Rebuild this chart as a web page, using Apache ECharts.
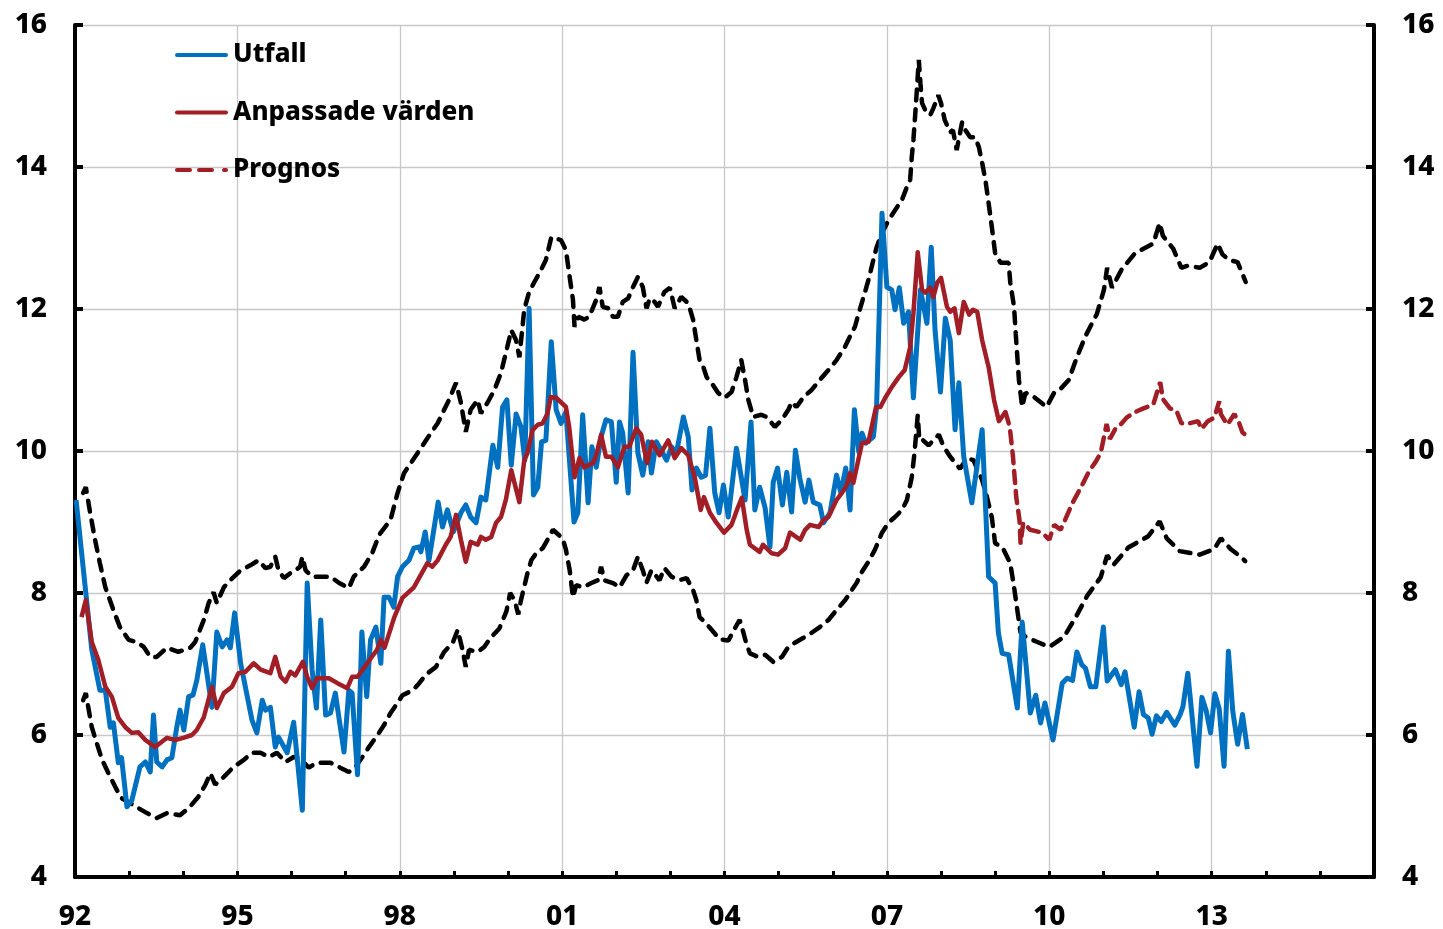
<!DOCTYPE html>
<html>
<head>
<meta charset="utf-8">
<script src="https://cdn.jsdelivr.net/npm/echarts@6/dist/echarts.min.js"></script>
<style>
html,body{margin:0;padding:0;background:#fff;}
#chart{width:1443px;height:929px;}
</style>
</head>
<body>
<div id="chart"></div>
<script>
// Year ticks shown on the x axis
var xTickYears = [1992, 1995, 1998, 2001, 2004, 2007, 2010, 2013, 2016];
// Y axis ticks
var yTicks = [4, 6, 8, 10, 12, 14, 16];

// Utfall (outcome) [year, value]
var utfall = [
[1992.02,9.31],[1992.31,7.2],[1992.46,6.63],[1992.56,6.63],[1992.65,6.11],[1992.71,6.17],[1992.8,5.61],[1992.86,5.68],[1992.96,4.99],[1993.05,5.08],
[1993.2,5.55],[1993.3,5.62],[1993.39,5.48],[1993.45,6.28],[1993.51,5.62],[1993.61,5.55],[1993.7,5.65],[1993.79,5.68],[1993.88,6.11],[1993.94,6.35],
[1994.01,6.07],[1994.1,6.54],[1994.18,6.56],[1994.25,6.77],[1994.36,7.27],[1994.53,6.39],[1994.62,7.45],[1994.72,7.24],[1994.81,7.34],[1994.87,7.23],
[1994.95,7.72],[1995.06,7.01],[1995.27,6.21],[1995.36,6.03],[1995.46,6.49],[1995.52,6.35],[1995.61,6.39],[1995.7,5.83],[1995.76,5.97],[1995.92,5.75],
[1996.04,6.18],[1996.2,4.94],[1996.29,8.14],[1996.38,6.92],[1996.46,6.38],[1996.54,7.62],[1996.63,6.28],[1996.72,6.31],[1996.81,6.59],[1996.97,5.76],
[1997.06,6.63],[1997.12,6.59],[1997.22,5.44],[1997.3,7.45],[1997.39,6.54],[1997.46,7.34],[1997.56,7.52],[1997.65,7.01],[1997.71,7.94],[1997.8,7.94],
[1997.89,7.8],[1997.96,8.23],[1998.05,8.37],[1998.17,8.46],[1998.26,8.63],[1998.36,8.65],[1998.39,8.58],[1998.47,8.86],[1998.54,8.46],[1998.71,9.28],
[1998.79,8.93],[1998.88,9.17],[1998.99,8.86],[1999.13,9.13],[1999.22,9.24],[1999.31,9.07],[1999.41,8.99],[1999.5,9.35],[1999.59,9.31],[1999.72,10.08],
[1999.81,9.77],[1999.9,10.62],[1999.98,10.72],[2000.06,9.8],[2000.15,10.52],[2000.24,10.34],[2000.31,9.87],[2000.39,12.01],[2000.47,9.38],[2000.55,9.49],
[2000.62,10.13],[2000.7,10.15],[2000.8,11.54],[2000.89,10.58],[2000.98,10.39],[2001.07,10.55],[2001.22,9.0],[2001.29,9.13],[2001.38,10.51],[2001.48,9.27],
[2001.55,10.06],[2001.63,9.77],[2001.72,10.2],[2001.81,10.44],[2001.91,10.41],[2002.0,9.56],[2002.06,10.41],[2002.12,10.25],[2002.22,9.41],[2002.31,11.39],
[2002.4,9.97],[2002.49,9.66],[2002.59,10.13],[2002.65,9.69],[2002.74,10.13],[2002.83,10.01],[2002.93,9.87],[2003.02,10.06],[2003.11,9.97],[2003.24,10.48],
[2003.33,10.2],[2003.4,9.45],[2003.48,9.76],[2003.57,9.63],[2003.65,9.66],[2003.73,10.32],[2003.82,9.41],[2003.9,9.13],[2003.98,9.52],[2004.07,9.07],
[2004.22,10.04],[2004.38,9.31],[2004.49,10.41],[2004.56,9.17],[2004.65,9.49],[2004.75,9.2],[2004.84,8.65],[2004.9,9.56],[2004.98,9.76],[2005.07,9.24],
[2005.15,9.7],[2005.24,9.14],[2005.31,10.01],[2005.39,9.62],[2005.49,9.28],[2005.56,9.59],[2005.64,9.28],[2005.76,9.24],[2005.83,8.99],[2005.95,9.13],
[2006.07,9.66],[2006.15,9.41],[2006.24,9.76],[2006.32,9.17],[2006.4,10.58],[2006.48,9.99],[2006.54,10.25],[2006.61,10.11],[2006.75,10.2],[2006.81,10.62],
[2006.91,13.35],[2007.0,12.31],[2007.09,12.27],[2007.15,11.99],[2007.23,12.3],[2007.31,11.8],[2007.4,11.96],[2007.49,10.75],[2007.62,12.27],[2007.74,11.8],
[2007.82,12.87],[2007.89,11.7],[2007.99,10.83],[2008.08,11.87],[2008.17,11.56],[2008.26,10.3],[2008.33,10.96],[2008.42,9.92],[2008.57,9.27],[2008.76,10.3],
[2008.88,8.23],[2009.0,8.14],[2009.06,7.44],[2009.13,7.15],[2009.25,7.13],[2009.41,6.38],[2009.5,7.59],[2009.65,6.31],[2009.75,6.56],[2009.84,6.17],
[2009.92,6.45],[2010.07,5.93],[2010.24,6.73],[2010.33,6.8],[2010.43,6.77],[2010.51,7.17],[2010.6,6.99],[2010.67,6.94],[2010.76,6.68],[2010.86,6.68],
[2011.0,7.52],[2011.07,6.76],[2011.22,6.92],[2011.33,6.71],[2011.4,6.89],[2011.57,6.11],[2011.66,6.61],[2011.74,6.29],[2011.83,6.24],[2011.9,6.01],
[2011.98,6.27],[2012.07,6.19],[2012.17,6.32],[2012.32,6.14],[2012.42,6.29],[2012.47,6.4],[2012.56,6.87],[2012.73,5.56],[2012.82,6.53],[2012.9,6.34],
[2012.98,6.03],[2013.06,6.58],[2013.14,6.37],[2013.23,5.56],[2013.31,7.18],[2013.39,6.34],[2013.48,5.87],[2013.57,6.29],[2013.66,5.8]
];

// Anpassade värden (fitted values) [year, value]
var anpassade = [
[1992.12,7.66],[1992.2,7.9],[1992.31,7.31],[1992.43,7.06],[1992.56,6.68],[1992.68,6.54],[1992.8,6.24],[1992.93,6.11],[1993.05,6.03],[1993.17,6.04],
[1993.3,5.93],[1993.48,5.83],[1993.7,5.96],[1993.85,5.93],[1994.0,5.96],[1994.16,6.0],[1994.25,6.07],[1994.38,6.25],[1994.53,6.68],[1994.62,6.38],
[1994.75,6.59],[1994.9,6.68],[1995.02,6.87],[1995.15,6.89],[1995.3,7.01],[1995.43,6.92],[1995.61,6.87],[1995.7,7.1],[1995.8,6.82],[1995.89,6.75],
[1995.98,6.89],[1996.07,6.84],[1996.21,7.03],[1996.29,6.82],[1996.38,6.66],[1996.47,6.8],[1996.69,6.8],[1996.85,6.73],[1997.03,6.66],[1997.12,6.82],
[1997.22,6.82],[1997.4,7.01],[1997.58,7.2],[1997.65,7.34],[1997.72,7.23],[1997.9,7.66],[1998.05,7.93],[1998.26,8.08],[1998.51,8.42],[1998.6,8.37],
[1998.7,8.46],[1998.85,8.68],[1998.94,8.79],[1999.04,9.1],[1999.13,8.75],[1999.22,8.44],[1999.31,8.72],[1999.44,8.68],[1999.5,8.79],[1999.59,8.75],
[1999.69,8.79],[1999.78,8.99],[1999.87,9.07],[1999.96,9.31],[2000.06,9.73],[2000.21,9.28],[2000.3,9.87],[2000.36,9.97],[2000.45,10.29],[2000.55,10.37],
[2000.64,10.39],[2000.73,10.53],[2000.79,10.76],[2000.89,10.75],[2001.07,10.62],[2001.13,10.34],[2001.23,9.63],[2001.32,9.9],[2001.41,9.77],[2001.57,9.83],
[2001.63,9.94],[2001.72,10.23],[2001.81,9.92],[2001.91,9.92],[2002.03,9.77],[2002.15,10.06],[2002.24,10.06],[2002.37,10.32],[2002.46,10.23],[2002.57,9.83],
[2002.66,10.13],[2002.8,9.94],[2002.96,10.15],[2003.08,9.9],[2003.2,10.04],[2003.33,9.94],[2003.45,9.63],[2003.56,9.17],[2003.62,9.35],[2003.73,9.13],
[2003.85,8.99],[2003.99,8.85],[2004.13,8.96],[2004.25,9.21],[2004.32,9.34],[2004.41,8.89],[2004.47,8.68],[2004.65,8.58],[2004.71,8.68],[2004.87,8.56],
[2004.99,8.54],[2005.12,8.63],[2005.21,8.85],[2005.4,8.75],[2005.49,8.89],[2005.58,8.96],[2005.74,8.93],[2005.83,9.03],[2005.92,9.07],[2006.07,9.31],
[2006.17,9.41],[2006.26,9.52],[2006.32,9.69],[2006.38,9.55],[2006.48,9.9],[2006.54,10.11],[2006.66,10.13],[2006.8,10.62],[2006.88,10.62],[2006.97,10.75],
[2007.09,10.9],[2007.22,11.04],[2007.33,11.14],[2007.43,11.46],[2007.49,11.94],[2007.57,12.8],[2007.65,12.27],[2007.71,12.23],[2007.8,12.3],[2007.86,12.17],
[2007.93,12.37],[2008.0,12.44],[2008.11,12.03],[2008.17,11.96],[2008.25,12.01],[2008.33,11.66],[2008.42,12.1],[2008.52,11.92],[2008.59,11.99],[2008.67,11.96],
[2008.76,11.56],[2008.88,11.18],[2008.98,10.72],[2009.07,10.42],[2009.19,10.55]
];

// Prognos (forecast of fitted values) [year, value]
var prognos = [
[2009.19,10.55],[2009.27,10.34],[2009.33,9.92],[2009.39,9.35],[2009.45,9.03],[2009.47,8.7],[2009.52,8.99],[2009.65,8.89],[2009.87,8.85],[2010.0,8.75],
[2010.09,8.96],[2010.21,8.89],[2010.27,8.99],[2010.43,9.27],[2010.58,9.48],[2010.74,9.72],[2010.86,9.85],[2010.95,9.97],[2011.06,10.38],[2011.12,10.17],
[2011.22,10.31],[2011.34,10.39],[2011.43,10.47],[2011.59,10.55],[2011.74,10.6],[2011.92,10.65],[2012.05,10.97],[2012.1,10.73],[2012.23,10.6],[2012.35,10.57],
[2012.44,10.39],[2012.59,10.39],[2012.75,10.42],[2012.81,10.31],[2012.93,10.42],[2013.05,10.47],[2013.14,10.7],[2013.17,10.52],[2013.29,10.37],[2013.42,10.52],
[2013.51,10.39],[2013.57,10.26],[2013.66,10.21]
];

// Upper band (dashed black) [year, value]
var upperBand = [
[1992.15,9.41],[1992.2,9.49],[1992.28,9.13],[1992.37,8.75],[1992.46,8.42],[1992.56,8.08],[1992.71,7.76],[1992.83,7.52],[1992.99,7.34],[1993.14,7.31],
[1993.27,7.24],[1993.39,7.1],[1993.51,7.1],[1993.7,7.23],[1993.91,7.17],[1994.13,7.23],[1994.22,7.31],[1994.38,7.62],[1994.47,7.86],[1994.56,8.01],
[1994.62,7.86],[1994.75,8.08],[1994.87,8.18],[1995.06,8.32],[1995.24,8.39],[1995.39,8.46],[1995.52,8.35],[1995.61,8.37],[1995.7,8.51],[1995.76,8.32],
[1995.86,8.21],[1995.98,8.28],[1996.07,8.32],[1996.16,8.37],[1996.2,8.51],[1996.26,8.32],[1996.38,8.23],[1996.54,8.23],[1996.72,8.23],[1996.88,8.14],
[1997.06,8.07],[1997.15,8.23],[1997.34,8.37],[1997.49,8.56],[1997.62,8.82],[1997.83,9.03],[1997.96,9.41],[1998.08,9.69],[1998.24,9.87],[1998.39,10.04],
[1998.51,10.18],[1998.7,10.39],[1998.82,10.58],[1998.91,10.72],[1999.04,10.96],[1999.13,10.68],[1999.22,10.27],[1999.31,10.58],[1999.44,10.72],[1999.5,10.53],
[1999.62,10.68],[1999.75,10.86],[1999.87,11.1],[1999.96,11.38],[2000.06,11.7],[2000.15,11.56],[2000.21,11.32],[2000.3,11.99],[2000.39,12.24],[2000.48,12.37],
[2000.61,12.55],[2000.7,12.69],[2000.8,13.01],[2000.98,12.97],[2001.07,12.83],[2001.13,12.5],[2001.2,12.13],[2001.23,11.75],[2001.3,11.89],[2001.41,11.85],
[2001.5,11.89],[2001.63,12.13],[2001.69,12.31],[2001.75,12.03],[2001.85,12.01],[2001.94,11.89],[2002.03,11.89],[2002.12,12.1],[2002.22,12.15],[2002.31,12.31],
[2002.4,12.45],[2002.49,12.31],[2002.56,12.01],[2002.62,12.15],[2002.71,12.1],[2002.77,12.03],[2002.89,12.24],[2002.99,12.3],[2003.08,12.01],[2003.2,12.17],
[2003.33,12.08],[2003.42,11.85],[2003.48,11.56],[2003.54,11.28],[2003.61,11.18],[2003.67,11.04],[2003.76,10.96],[2003.88,10.82],[2004.0,10.75],[2004.13,10.83],
[2004.22,11.04],[2004.31,11.28],[2004.38,11.0],[2004.44,10.72],[2004.53,10.48],[2004.68,10.51],[2004.78,10.48],[2004.93,10.34],[2005.06,10.44],[2005.18,10.58],
[2005.24,10.69],[2005.33,10.62],[2005.46,10.76],[2005.61,10.86],[2005.76,11.0],[2005.92,11.14],[2006.07,11.28],[2006.22,11.46],[2006.35,11.66],[2006.41,11.75],
[2006.48,11.94],[2006.57,12.17],[2006.66,12.41],[2006.75,12.69],[2006.81,12.87],[2006.91,13.07],[2007.03,13.25],[2007.15,13.39],[2007.28,13.54],[2007.37,13.72],
[2007.43,13.82],[2007.46,14.14],[2007.49,14.38],[2007.52,14.7],[2007.55,15.04],[2007.59,15.51],[2007.62,15.18],[2007.65,14.9],[2007.71,14.8],[2007.8,14.73],
[2007.86,14.83],[2007.95,15.01],[2008.0,14.9],[2008.07,14.66],[2008.17,14.49],[2008.22,14.52],[2008.29,14.24],[2008.39,14.63],[2008.45,14.52],[2008.54,14.42],
[2008.63,14.42],[2008.7,14.28],[2008.76,14.06],[2008.82,13.82],[2008.88,13.49],[2008.94,13.15],[2009.0,12.79],[2009.1,12.65],[2009.25,12.65],[2009.28,12.37],
[2009.35,12.03],[2009.38,11.66],[2009.44,11.0],[2009.5,10.62],[2009.56,10.82],[2009.72,10.76],[2009.95,10.62],[2010.09,10.82],[2010.19,10.86],[2010.36,11.0],
[2010.5,11.3],[2010.67,11.62],[2010.88,11.93],[2011.01,12.27],[2011.07,12.58],[2011.16,12.3],[2011.34,12.56],[2011.59,12.79],[2011.92,12.92],[2012.04,13.21],
[2012.1,13.03],[2012.29,12.85],[2012.44,12.58],[2012.56,12.61],[2012.78,12.58],[2012.96,12.66],[2013.11,12.92],[2013.2,12.77],[2013.32,12.69],[2013.48,12.66],
[2013.63,12.38]
];

// Lower band (dashed black) [year, value]
var lowerBand = [
[1992.15,6.49],[1992.2,6.59],[1992.31,6.11],[1992.4,5.89],[1992.5,5.65],[1992.65,5.41],[1992.77,5.23],[1992.86,5.11],[1993.02,5.04],[1993.17,4.97],
[1993.33,4.9],[1993.51,4.83],[1993.7,4.9],[1993.94,4.87],[1994.1,4.97],[1994.28,5.13],[1994.41,5.3],[1994.5,5.46],[1994.59,5.3],[1994.75,5.41],
[1994.93,5.55],[1995.12,5.65],[1995.27,5.75],[1995.43,5.75],[1995.58,5.69],[1995.73,5.75],[1995.89,5.62],[1996.04,5.69],[1996.14,5.68],[1996.32,5.54],
[1996.47,5.61],[1996.72,5.61],[1996.9,5.54],[1997.06,5.48],[1997.18,5.55],[1997.31,5.69],[1997.43,5.83],[1997.59,6.0],[1997.71,6.14],[1997.83,6.31],
[1997.93,6.42],[1998.05,6.56],[1998.24,6.63],[1998.36,6.73],[1998.48,6.85],[1998.67,6.96],[1998.82,7.17],[1998.98,7.3],[1999.07,7.48],[1999.16,7.2],
[1999.22,6.96],[1999.28,7.2],[1999.44,7.17],[1999.56,7.24],[1999.68,7.37],[1999.84,7.5],[1999.97,7.74],[2000.04,8.0],[2000.12,7.9],[2000.19,7.7],
[2000.24,7.9],[2000.36,8.28],[2000.43,8.46],[2000.52,8.56],[2000.64,8.63],[2000.73,8.75],[2000.83,8.89],[2001.01,8.77],[2001.07,8.61],[2001.14,8.32],
[2001.2,7.94],[2001.26,8.11],[2001.38,8.08],[2001.54,8.14],[2001.66,8.18],[2001.72,8.37],[2001.78,8.18],[2001.94,8.14],[2002.06,8.08],[2002.19,8.25],
[2002.31,8.32],[2002.4,8.51],[2002.49,8.32],[2002.56,8.15],[2002.65,8.32],[2002.8,8.18],[2002.89,8.35],[2003.02,8.23],[2003.17,8.18],[2003.3,8.21],
[2003.42,8.04],[2003.48,7.9],[2003.54,7.66],[2003.64,7.59],[2003.73,7.51],[2003.91,7.35],[2004.07,7.33],[2004.19,7.5],[2004.28,7.62],[2004.35,7.44],
[2004.41,7.27],[2004.47,7.15],[2004.62,7.1],[2004.75,7.13],[2004.9,7.03],[2005.06,7.1],[2005.18,7.24],[2005.3,7.3],[2005.46,7.37],[2005.61,7.44],
[2005.76,7.52],[2005.92,7.62],[2006.07,7.76],[2006.23,7.9],[2006.35,8.04],[2006.44,8.14],[2006.54,8.3],[2006.66,8.44],[2006.78,8.61],[2006.91,8.85],
[2007.03,8.99],[2007.15,9.07],[2007.28,9.17],[2007.37,9.31],[2007.46,9.63],[2007.51,9.97],[2007.57,10.5],[2007.6,10.15],[2007.67,10.15],[2007.77,10.08],
[2007.86,10.15],[2007.96,10.23],[2008.05,10.06],[2008.17,9.92],[2008.35,9.75],[2008.48,9.9],[2008.6,9.87],[2008.76,9.59],[2008.85,9.35],[2008.94,9.06],
[2009.0,8.7],[2009.13,8.65],[2009.28,8.42],[2009.35,8.08],[2009.41,7.76],[2009.47,7.44],[2009.59,7.37],[2009.78,7.31],[2010.0,7.24],[2010.27,7.38],
[2010.49,7.66],[2010.7,7.96],[2010.95,8.22],[2011.07,8.53],[2011.19,8.4],[2011.46,8.64],[2011.83,8.8],[2012.04,9.01],[2012.17,8.77],[2012.41,8.59],
[2012.78,8.54],[2013.05,8.62],[2013.17,8.77],[2013.35,8.62],[2013.54,8.51],[2013.62,8.45]
];

var FONT = '"Noto Sans", "Open Sans", sans-serif';
var WEIGHT = 800;
var BLUE = '#0070C0';
var RED = '#A21E26';

// legend icons (solid bar, dashed bar)
var ICON_SOLID = 'path://M2,0 L51,0 A2,2 0 0 1 51,4 L2,4 A2,2 0 0 1 2,0 Z';
var ICON_DASH = 'path://M2,0 L15,0 A2,2 0 0 1 15,4 L2,4 A2,2 0 0 1 2,0 Z M24,0 L37,0 A2,2 0 0 1 37,4 L24,4 A2,2 0 0 1 24,0 Z M49,0 L51,0 A2,2 0 0 1 51,4 L49,4 A2,2 0 0 1 49,0 Z';

var chart = echarts.init(document.getElementById('chart'), null, {renderer: 'canvas'});

var yAxisCommon = {
  type: 'value',
  min: yTicks[0],
  max: yTicks[yTicks.length - 1],
  interval: 2,
  axisLine: {show: true, onZero: false, lineStyle: {color: '#000', width: 4}},
  axisTick: {show: true, inside: true, length: 8, lineStyle: {color: '#000', width: 4}},
  axisLabel: {color: '#000', fontSize: 28, fontWeight: WEIGHT, fontFamily: FONT, margin: 28}
};

var option = {
  animation: false,
  backgroundColor: '#fff',
  grid: {left: 75, right: 69, top: 25, bottom: 52, containLabel: false, outerBoundsMode: 'none'},
  legend: {
    data: [
      {name: 'Utfall', icon: ICON_SOLID},
      {name: 'Anpassade värden', icon: ICON_SOLID},
      {name: 'Prognos', icon: ICON_DASH}
    ],
    orient: 'vertical',
    left: 170,
    top: 35,
    padding: 5,
    itemWidth: 53,
    itemHeight: 5,
    itemGap: 27.5,
    textStyle: {color: '#000', fontSize: 26, fontWeight: WEIGHT, fontFamily: FONT, lineHeight: 30}
  },
  xAxis: {
    type: 'value',
    min: xTickYears[0],
    max: xTickYears[xTickYears.length - 1],
    interval: 3,
    axisLine: {show: true, onZero: false, lineStyle: {color: '#000', width: 4}},
    axisTick: {show: true, inside: true, length: 6, lineStyle: {color: '#000', width: 3}},
    minorTick: {show: true, splitNumber: 3, length: 6, lineStyle: {color: '#000', width: 3}},
    axisLabel: {
      color: '#000', fontSize: 28, fontWeight: WEIGHT, fontFamily: FONT, margin: 26,
      formatter: function (v) {
        if (v >= 2016) return '';
        var s = String(v % 100);
        return s.length < 2 ? '0' + s : s;
      }
    },
    splitLine: {show: true, lineStyle: {color: '#c8c8c8', width: 1.3}}
  },
  yAxis: [
    Object.assign({}, yAxisCommon, {
      position: 'left',
      splitLine: {show: true, lineStyle: {color: '#c8c8c8', width: 1.3}}
    }),
    Object.assign({}, yAxisCommon, {
      position: 'right',
      splitLine: {show: false}
    })
  ],
  series: [
    {
      name: 'Övre gräns', type: 'line', data: upperBand, symbol: 'none', z: 2,
      lineStyle: {color: '#000', width: 4.5, type: [11, 9], cap: 'round'}
    },
    {
      name: 'Undre gräns', type: 'line', data: lowerBand, symbol: 'none', z: 2,
      lineStyle: {color: '#000', width: 4.5, type: [11, 9], cap: 'round'}
    },
    {
      name: 'Utfall', type: 'line', data: utfall, symbol: 'none', z: 3,
      itemStyle: {color: BLUE},
      lineStyle: {color: BLUE, width: 5, join: 'round'}
    },
    {
      name: 'Anpassade värden', type: 'line', data: anpassade, symbol: 'none', z: 4,
      itemStyle: {color: RED},
      lineStyle: {color: RED, width: 4.5, join: 'round'}
    },
    {
      name: 'Prognos', type: 'line', data: prognos, symbol: 'none', z: 4,
      itemStyle: {color: RED},
      lineStyle: {color: RED, width: 4.5, type: [12, 8], cap: 'round'}
    }
  ]
};
chart.setOption(option);
</script>
</body>
</html>
